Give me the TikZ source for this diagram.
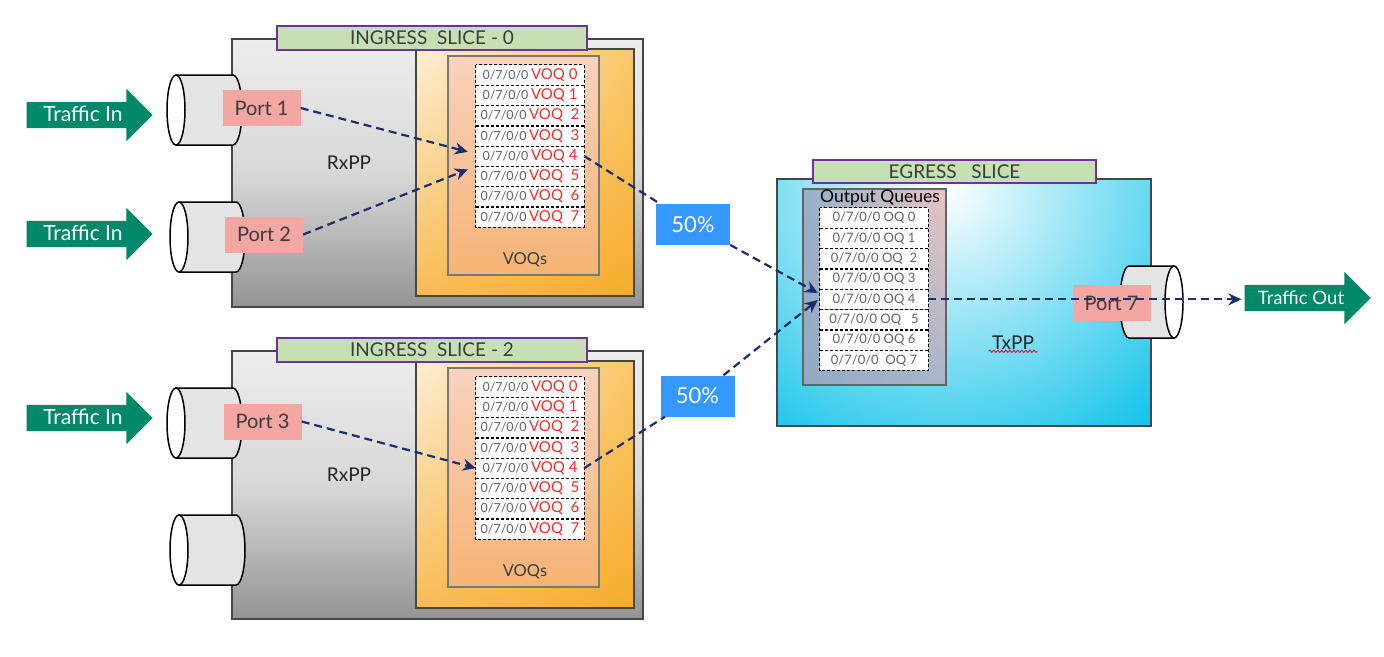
\documentclass[tikz,border=0pt]{standalone}
\usepackage{fontspec}
\setmainfont{Lato}
\usetikzlibrary{arrows.meta, positioning, shapes.arrows, shadings, decorations.pathmorphing}
\definecolor{VertTitre}{RGB}{198,224,180}
\definecolor{Violet}{RGB}{112,48,160}
\definecolor{Rose}{RGB}{244,166,162}
\definecolor{VertFleche}{RGB}{0,137,104}
\definecolor{BleuPct}{RGB}{52,152,255}
\definecolor{Marine}{RGB}{28,45,110}
\definecolor{RougeVOQ}{RGB}{255,40,40}
\definecolor{GrisTexte}{RGB}{100,100,100}
\definecolor{GrisFonce}{RGB}{60,60,60}
\definecolor{GrisBord}{RGB}{70,70,70}
\definecolor{GrisCyl}{RGB}{228,228,228}
\definecolor{Cyan}{RGB}{0,190,232}
\definecolor{OrHG}{RGB}{253,238,212}
\definecolor{OrHD}{RGB}{250,200,110}
\definecolor{OrBG}{RGB}{249,188,85}
\definecolor{OrBD}{RGB}{247,172,42}
\definecolor{OqHG}{RGB}{150,175,200}
\definecolor{OqHD}{RGB}{232,196,198}
\definecolor{OqBG}{RGB}{146,170,196}
\definecolor{OqBD}{RGB}{168,181,200}
\newcommand{\fs}[1]{\fontsize{#1}{#1}\selectfont}
\newcommand{\voqtexte}[1]{{\color{GrisTexte}\fs{12.5}0/7/0/0}\ {\color{RougeVOQ}\fs{15}#1}}
% cylindre ouvert a gauche : x ellipse, x fond, y centre
\newcommand{\cylindre}[3]{%
  \draw[line width=1.5pt, fill=GrisCyl] (#1,#3-35) -- (#2,#3-35)
    arc[start angle=-90, end angle=90, x radius=9, y radius=35] -- (#1,#3+35) -- cycle;
  \draw[line width=1.5pt, fill=white] (#1,#3) ellipse[x radius=9, y radius=35];}
\tikzset{boite/.style={rectangle, draw=GrisBord, line width=2pt, inner sep=0pt}}
\tikzset{rxpp/.style={boite, top color={rgb,255:red,237;green,237;blue,237},
  bottom color={rgb,255:red,148;green,148;blue,148},
  middle color={rgb,255:red,216;green,216;blue,216}}}
\tikzset{zoneorange/.style={boite, line width=1.8pt,
  upper left=OrHG, upper right=OrHD, lower left=OrBG, lower right=OrBD}}
\tikzset{zonevoq/.style={boite, draw={rgb,255:red,120;green,120;blue,120}, line width=1.4pt,
  top color={rgb,255:red,249;green,210;blue,190}, bottom color={rgb,255:red,246;green,180;blue,116}}}
\tikzset{ligne/.style={rectangle, fill=white, minimum height=20.25pt, minimum width=108pt, inner sep=0pt}}
\tikzset{cadre/.style={draw, dash pattern=on 3pt off 2pt, line width=1.2pt}}
\tikzset{titre/.style={rectangle, draw=Violet, fill=VertTitre, line width=2pt,
  minimum height=24pt, inner sep=0pt, font=\fs{19}, text=GrisFonce}}
\tikzset{port/.style={rectangle, fill=Rose, minimum width=78pt, minimum height=36pt,
  inner sep=0pt, font=\fs{20}, text=GrisFonce}}
\tikzset{pct/.style={rectangle, fill=BleuPct, text=white, minimum width=74pt,
  minimum height=41pt, inner sep=0pt, font=\fs{22}}}
\tikzset{trafic/.style={single arrow, fill=VertFleche, text=white, font=\fs{21},
  single arrow head extend=13pt, minimum height=126pt, text height=16pt, text depth=4pt,
  inner ysep=3pt, inner xsep=4pt}}
\tikzset{etiq/.style={font=\fs{19}, text={rgb,255:red,35;green,35;blue,35}}}
\tikzset{fl/.style={-{Stealth[length=13pt, width=12pt]}, draw=Marine, line width=2.2pt,
  dash pattern=on 8pt off 5pt}}

\begin{document}
\begin{tikzpicture}[x=1pt, y=-1pt]
\useasboundingbox (0,0) rectangle (1384,656);

% tranches d'entree
\foreach \s/\dy/\n in {A/0/0, B/312/2} {
  \node[rxpp, minimum width=411pt, minimum height=268pt] (rx\s) at (437.5,173+\dy) {};
  \node[etiq] (lrx\s) at (349,163+\dy) {RxPP};
  \node[zoneorange, minimum width=218pt, minimum height=247pt] (or\s) at (525,172.5+\dy) {};
  \node[zonevoq, minimum width=151pt, minimum height=219pt] (zv\s) at (523.5,165.5+\dy) {};
  \node[font=\fs{16.5}, text=GrisFonce] (lzv\s) at (525,260+\dy) {VOQs};
  \foreach \t [count=\i from 0] in {VOQ 0, VOQ 1, VOQ\ \ 2, VOQ\ \ 3, VOQ 4, VOQ\ \ 5, VOQ\ \ 6, VOQ\ \ 7}
    \node[ligne] (voq\s\i) at (530,75.125+\dy+20.25*\i) {\voqtexte{\t}};
  \draw[cadre] (voq\s0.north west) rectangle (voq\s7.south east);
  \foreach \i in {0,...,6}
    \draw[cadre] (voq\s\i.south west) -- (voq\s\i.south east);
  \node[titre, minimum width=310pt] (t\s) at (432,38+\dy) {INGRESS\ \ SLICE - \n};
}

% cables
\cylindre{176}{233}{110}
\cylindre{179}{236}{237}
\cylindre{176}{233}{423}
\cylindre{179}{236}{550}

\node[port] (p1) at (261.5,108) {Port 1};
\node[port] (p2) at (264,234.5) {Port 2};
\node[port] (p3) at (262.5,421.5) {Port 3};

\node[trafic] (in1) at (83,115) {Traffic In};
\node[trafic] (in2) at (83,234) {Traffic In};
\node[trafic] (in3) at (83,418) {Traffic In};

% tranche de sortie
\node[boite, draw=GrisBord, fill=Cyan, minimum width=374pt, minimum height=247pt,
  path picture={\shade[inner color=white, outer color=Cyan]
    ([shift={(-19,6)}]path picture bounding box.north) circle (340pt);}] (tx) at (964,302.5) {};
\node[boite, draw={rgb,255:red,100;green,100;blue,100}, line width=1.4pt,
  minimum width=143pt, minimum height=196pt,
  upper left=OqHG, upper right=OqHD, lower left=OqBG, lower right=OqBD] (oqz) at (874.5,287) {};
\node[font=\fs{17.5}, text=black] (loq) at (880,198) {Output Queues};
\foreach \t [count=\i from 0] in {OQ 0, OQ 1, OQ\ \ 2, OQ 3, OQ 4, OQ\ \ \ 5, OQ 6, \ OQ 7}
  \node[ligne, font=\fs{13}, text=GrisTexte] (oq\i) at (874,218.15+20.3*\i) {0/7/0/0 \t};
\draw[cadre] (oq0.north west) rectangle (oq7.south east);
\foreach \i in {0,...,6}
  \draw[cadre] (oq\i.south west) -- (oq\i.south east);
\node[titre, minimum width=283pt, minimum height=23pt] (teg) at (954.5,171.5) {EGRESS\ \ \ SLICE};
\node[etiq] (ltx) at (1013,343) {TxPP};
\draw[red, line width=0.8pt, decorate, decoration={snake, amplitude=1.2pt, segment length=4pt}]
  ([yshift=2]ltx.south west) -- ([yshift=2]ltx.south east);

\draw[line width=1.5pt, fill=GrisCyl] (1174,266) -- (1129,266)
  arc[start angle=-90, end angle=-270, x radius=9, y radius=36] -- (1174,338) -- cycle;
\draw[line width=1.5pt, fill=white] (1174,302) ellipse[x radius=9, y radius=36];
\node[port] (p7) at (1111.5,303) {Port 7};

\node[trafic, font=\fs{18.5}] (sortie) at (1301,298) {Traffic Out};

\node[pct] (pct1) at (693,224.5) {50\%};
\node[pct] (pct2) at (697.5,396) {50\%};

% flux
\draw[fl] (p1.east) -- ([shift={(-8,6)}]voqA4.north west);
\draw[fl] (p2.east) -- ([shift={(-8,3)}]voqA4.south west);
\draw[fl] (p3.east) -- (voqB4.west);
\draw[fl] (voqA4.east) -- (pct1) -- ([shift={(-2,4)}]oq4.north west);
\draw[fl] (voqB4.east) -- (pct2) -- ([shift={(-2,11)}]oq4.north west);
\draw[fl, shorten >=3pt] (oq4.east) -- (oq4.east -| sortie.tail);
\end{tikzpicture}
\end{document}
